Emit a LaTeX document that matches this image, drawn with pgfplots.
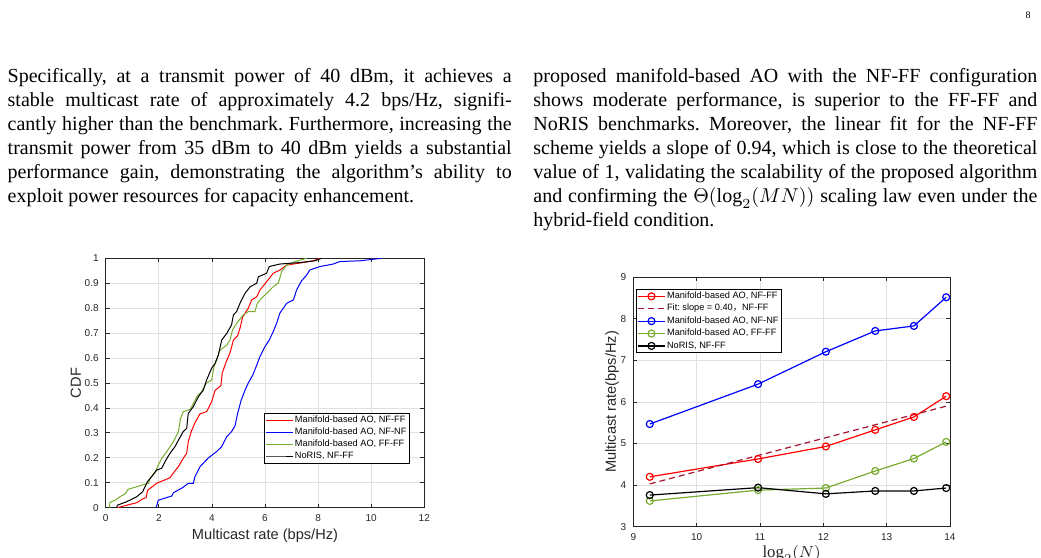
\documentclass[border=0pt]{standalone}
\usepackage{fontspec}
\setmainfont{Liberation Serif}
\newfontfamily\chartfont{Liberation Sans}
\newfontfamily\cjk{Noto Sans CJK SC}
\usepackage{pgfplots}
\pgfplotsset{compat=1.18}

\definecolor{mgreen}{rgb}{0.466,0.674,0.188}
\definecolor{fitred}{rgb}{0.635,0.078,0.184}
\definecolor{axgray}{gray}{0.15}

\newcommand{\legfont}{\chartfont\fontsize{4.6}{5}\selectfont}

\pgfplotsset{
  matlab/.style={
    scale only axis,
    axis line style={axgray, line width=0.4pt},
    tick style={axgray, line width=0.4pt},
    tick align=inside,
    major tick length=2pt,
    grid=major,
    major grid style={black!12, line width=0.4pt},
    tick label style={font=\chartfont\fontsize{5}{6}\selectfont, text=axgray},
    label style={font=\chartfont\fontsize{7.3}{8}\selectfont, text=axgray},
    /pgf/number format/assume math mode=true,
    legend style={font=\legfont, draw=black, line width=0.4pt,
      inner sep=0.5pt, row sep=0pt,
      nodes={inner sep=0.75pt, text height=3.3pt, text depth=1.1pt}},
    legend cell align=left,
    legend image code/.code={\draw[mark repeat=2, mark phase=2, #1]
      plot coordinates {(0pt,0pt) (6.75pt,0pt) (13.5pt,0pt)};},
  }
}

\begin{document}
\frenchspacing
\begin{tikzpicture}
\useasboundingbox (0,0) rectangle (520.5pt,279pt);

% page number
\node[anchor=base east, inner sep=0pt, font=\fontsize{5}{6}\selectfont] at (515.5pt,269.5pt) {8};

% left column text
\node[anchor=base west, text width=252pt, align=justify, inner sep=0pt,
      font=\fontsize{10}{12}\selectfont] at (3.65pt,237.65pt)
{Specifically, at a transmit power of 40 dBm, it achieves a\linebreak
stable multicast rate of approximately 4.2 bps/Hz, signifi-\linebreak
cantly higher than the benchmark. Furthermore, increasing the\linebreak
transmit power from 35 dBm to 40 dBm yields a substantial\linebreak
performance gain, demonstrating the algorithm’s ability to\linebreak
exploit power resources for capacity enhancement.};

% right column text
\node[anchor=base west, text width=252pt, align=justify, inner sep=0pt,
      font=\fontsize{10}{12}\selectfont] at (266.5pt,237.65pt)
{proposed manifold-based AO with the NF-FF configuration\linebreak
shows moderate performance, is superior to the FF-FF and\linebreak
NoRIS benchmarks. Moreover, the linear fit for the NF-FF\linebreak
scheme yields a slope of 0.94, which is close to the theoretical\linebreak
value of 1, validating the scalability of the proposed algorithm\linebreak
and confirming the $\Theta(\log_2(MN))$ scaling law even under the\linebreak
hybrid-field condition.};

% CDF of the multicast rate
\begin{axis}[matlab,
  at={(52.85pt,25.15pt)}, anchor=south west,
  width=159.3pt, height=124.7pt,
  xmin=0, xmax=12, ymin=0, ymax=1,
  xtick={0,2,4,6,8,10,12},
  ytick={0,0.1,0.2,0.3,0.4,0.5,0.6,0.7,0.8,0.9,1},
  yticklabels={0,0.1,0.2,0.3,0.4,0.5,0.6,0.7,0.8,0.9,1},
  xlabel={Multicast rate (bps/Hz)},
  ylabel={CDF},
  xlabel style={yshift=3.5pt},
  ylabel style={yshift=-5pt},
  legend style={at={(0.953,0.178)}, anchor=south east},
]
\addplot[red, line width=0.5pt] coordinates {
(0.44,0) (0.79,0.01) (1.17,0.02) (1.42,0.037) (1.52,0.04) (1.58,0.07)
(1.92,0.098) (2.42,0.12) (2.59,0.145) (2.74,0.165) (2.92,0.198) (3.05,0.218)
(3.11,0.265) (3.24,0.31) (3.36,0.34) (3.55,0.376) (3.8,0.385) (3.99,0.425)
(4.12,0.47) (4.34,0.49) (4.39,0.54) (4.52,0.58) (4.68,0.62) (4.81,0.672)
(4.97,0.69) (5.06,0.72) (5.16,0.765) (5.37,0.8) (5.5,0.833) (5.69,0.846)
(5.81,0.873) (6.06,0.906) (6.31,0.94) (6.56,0.953) (6.82,0.973) (7.44,0.983)
(7.82,0.99) (8.07,1.0)};
\addlegendentry{Manifold-based AO, NF-FF}
\addplot[blue, line width=0.5pt] coordinates {
(1.9,0) (1.98,0.03) (2.49,0.047) (2.55,0.06) (2.92,0.082) (3.11,0.098)
(3.3,0.098) (3.36,0.124) (3.55,0.164) (3.87,0.2) (4.18,0.225) (4.37,0.245)
(4.56,0.285) (4.74,0.305) (4.87,0.328) (4.97,0.378) (5.1,0.43) (5.25,0.472)
(5.37,0.5) (5.54,0.532) (5.69,0.572) (5.81,0.606) (6.0,0.646) (6.16,0.672)
(6.31,0.706) (6.44,0.74) (6.56,0.78) (6.82,0.82) (7.07,0.833) (7.19,0.873)
(7.38,0.91) (7.57,0.933) (7.69,0.953) (8.07,0.967) (8.57,0.977) (8.82,0.987)
(9.58,0.99) (10.39,1.0)};
\addlegendentry{Manifold-based AO, NF-NF}
\addplot[mgreen, line width=0.5pt] coordinates {
(0.14,0) (0.16,0.021) (0.35,0.03) (0.54,0.044) (0.73,0.055) (0.85,0.074)
(1.17,0.084) (1.61,0.098) (1.67,0.118) (1.86,0.144) (2.11,0.198) (2.3,0.225)
(2.55,0.265) (2.74,0.305) (2.82,0.358) (2.92,0.385) (3.18,0.394) (3.3,0.418)
(3.43,0.445) (3.61,0.465) (3.78,0.499) (3.99,0.512) (4.08,0.566) (4.18,0.592)
(4.31,0.632) (4.56,0.652) (4.68,0.672) (4.78,0.713) (4.93,0.739) (5.18,0.773)
(5.37,0.786) (5.62,0.786) (5.71,0.82) (5.87,0.84) (6.13,0.866) (6.31,0.886)
(6.5,0.9) (6.63,0.947) (6.82,0.973) (7.13,0.987) (7.57,1.0)};
\addlegendentry{Manifold-based AO, FF-FF}
\addplot[black, line width=0.5pt] coordinates {
(0.41,0) (0.44,0.01) (0.79,0.024) (1.17,0.044) (1.39,0.064) (1.57,0.104)
(1.73,0.124) (1.92,0.151) (2.11,0.158) (2.23,0.184) (2.42,0.218) (2.61,0.245)
(2.74,0.271) (2.92,0.305) (3.05,0.318) (3.11,0.378) (3.3,0.405) (3.49,0.445)
(3.68,0.472) (3.8,0.512) (3.99,0.559) (4.12,0.579) (4.24,0.612) (4.37,0.672)
(4.56,0.699) (4.74,0.733) (4.81,0.773) (4.93,0.786) (5.06,0.82) (5.25,0.86)
(5.44,0.886) (5.69,0.9) (5.75,0.926) (6.06,0.94) (6.16,0.967) (6.56,0.977)
(7.32,0.983) (7.88,0.99) (8.13,1.0)};
\addlegendentry{NoRIS, NF-FF}
\end{axis}

% multicast rate versus log2(N)
\begin{axis}[matlab,
  at={(316.65pt,15.65pt)}, anchor=south west,
  width=158.35pt, height=124.7pt,
  xmin=9, xmax=14, ymin=3, ymax=9,
  xtick={9,10,11,12,13,14},
  ytick={3,4,5,6,7,8,9},
  xlabel={$\log_2(N)$},
  ylabel={Multicast rate(bps/Hz)},
  xlabel style={font=\fontsize{8.4}{9}\selectfont, yshift=4.5pt},
  ylabel style={yshift=-6pt},
  legend style={at={(0.0085,0.953)}, anchor=north west, row sep=0.3pt},
  mark size=1.75pt,
]
\addplot[red, line width=0.6pt, mark=o] coordinates {
(9.26,4.20) (10.97,4.63) (12.04,4.93) (12.82,5.33) (13.43,5.64) (13.94,6.14)};
\addlegendentry{Manifold-based AO, NF-FF}
\addplot[fitred, line width=0.6pt, dash pattern=on 3pt off 2pt] coordinates {
(9.26,4.03) (13.94,5.90)};
\addlegendentry{Fit: slope = 0.40{\cjk ，}NF-FF}
\addplot[blue, line width=0.6pt, mark=o] coordinates {
(9.26,5.47) (10.97,6.43) (12.04,7.21) (12.82,7.71) (13.43,7.83) (13.94,8.52)};
\addlegendentry{Manifold-based AO, NF-NF}
\addplot[mgreen, line width=0.6pt, mark=o] coordinates {
(9.26,3.62) (10.97,3.88) (12.04,3.93) (12.82,4.34) (13.43,4.64) (13.94,5.04)};
\addlegendentry{Manifold-based AO, FF-FF}
\addplot[black, line width=0.6pt, mark=o] coordinates {
(9.26,3.76) (10.97,3.94) (12.04,3.79) (12.82,3.86) (13.43,3.86) (13.94,3.93)};
\addlegendentry{NoRIS, NF-FF}
\end{axis}
\end{tikzpicture}
\end{document}
